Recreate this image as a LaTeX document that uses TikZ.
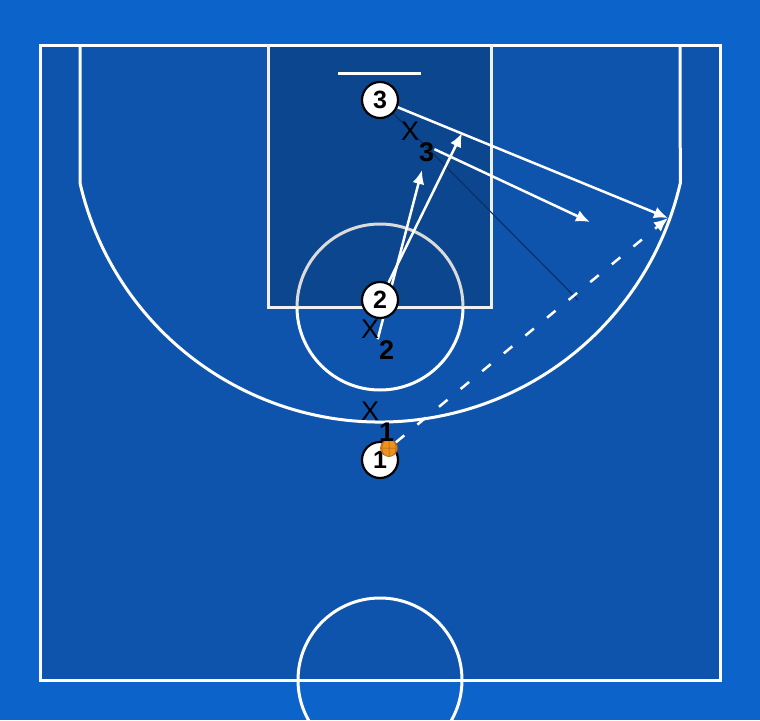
\documentclass[tikz,border=0pt]{standalone}
\usepackage{fontspec}
\setsansfont{Liberation Sans}
\usetikzlibrary{arrows.meta, positioning}
\definecolor{outerblue}{RGB}{12,100,202}
\definecolor{courtblue}{RGB}{14,84,172}
\definecolor{keyblue}{RGB}{11,70,142}
\definecolor{darkline}{RGB}{10,48,105}
\definecolor{ballorange}{RGB}{236,146,30}
\definecolor{ballbrown}{RGB}{170,90,20}
\pgfdeclarelayer{floor}
\pgfdeclarelayer{paths}
\pgfsetlayers{floor,paths,main}
\newcommand{\defsub}[1]{\raisebox{-21pt}{\bfseries #1}}
\tikzset{
  court/.style = {draw=white, line width=3pt},
  keyline/.style = {draw=white!88!gray, line width=3pt},
  player/.style = {circle, draw=black, fill=white, line width=2.2pt,
    minimum size=36pt, inner sep=0pt,
    font=\sffamily\bfseries\fontsize{25}{25}\selectfont},
  defender/.style = {inner sep=0pt, anchor=base west,
    font=\sffamily\fontsize{27}{27}\selectfont},
  ballnode/.style = {circle, fill=ballorange, draw=ballbrown, line width=0.6pt,
    minimum size=17pt, inner sep=0pt},
  move/.style = {draw=white, line width=2.5pt, -{Latex[length=14pt,width=12pt]}},
  pass/.style = {move, dash pattern=on 11pt off 17pt},
  screen/.style = {draw=darkline, line width=1.2pt}
}

\begin{document}
\begin{tikzpicture}[x=1pt,y=-1pt]
\useasboundingbox (0,0) rectangle (760,720);
\clip (0,0) rectangle (760,720);

\begin{pgfonlayer}{floor}
\fill[outerblue] (0,0) rectangle (760,720);
\fill[courtblue] (40,45) rectangle (720,680);
\fill[keyblue] (268,45) rectangle (491,307);
% court
\draw[court] (40,45) rectangle (720,680);
\draw[court] (80,45) -- (80,183) arc[start angle=-167.05, end angle=-12.95, radius=308pt] -- (680,45);
\draw[keyline] (268,45) -- (268,307) -- (491,307) -- (491,45);
\draw[keyline, draw=white!72!gray] (297,307) arc[start angle=180, end angle=0, radius=83pt];
\draw[court] (463,307) arc[start angle=0, end angle=-180, radius=83pt];
\draw[court] (338,73) -- (421,73);
\draw[court] (380,680) circle[radius=82pt];
\end{pgfonlayer}

% players
\node[player] (p3) at (380,100) {3};
\node[player] (p2) at (380,300) {2};
\node[player] (p1) at (380,460) {1};
\node[ballnode, path picture={
  \draw[ballbrown, line width=0.5pt]
    (path picture bounding box.north) -- (path picture bounding box.south)
    (path picture bounding box.west) -- (path picture bounding box.east)
    ([xshift=-4pt]path picture bounding box.north) to[bend right=40] ([xshift=-4pt]path picture bounding box.south)
    ([xshift=4pt]path picture bounding box.north) to[bend left=40] ([xshift=4pt]path picture bounding box.south);
  }] (ball) at (389,448) {};

% defenders
\node[defender] (x3) at (401,140) {X\defsub{3}};
\node[defender] (x2) at (361,338) {X\defsub{2}};
\node[defender] (x1) at (361,420) {X\defsub{1}};

\coordinate (corner) at (668,218);
\coordinate (x3end) at (590,222);
\coordinate (screenend) at (578,300);
\coordinate (p2end) at (462,133);
\coordinate (x2end) at (422,170);

\begin{pgfonlayer}{paths}
\draw[screen] (p3) -- (screenend);
\draw[move] (p3) -- (corner);
\draw[move] (x3) -- (x3end);
\draw[move] (p2) -- (p2end);
\draw[move] (x2.center) -- (x2end);
\draw[pass] (ball) -- (corner);
\end{pgfonlayer}
\end{tikzpicture}
\end{document}
